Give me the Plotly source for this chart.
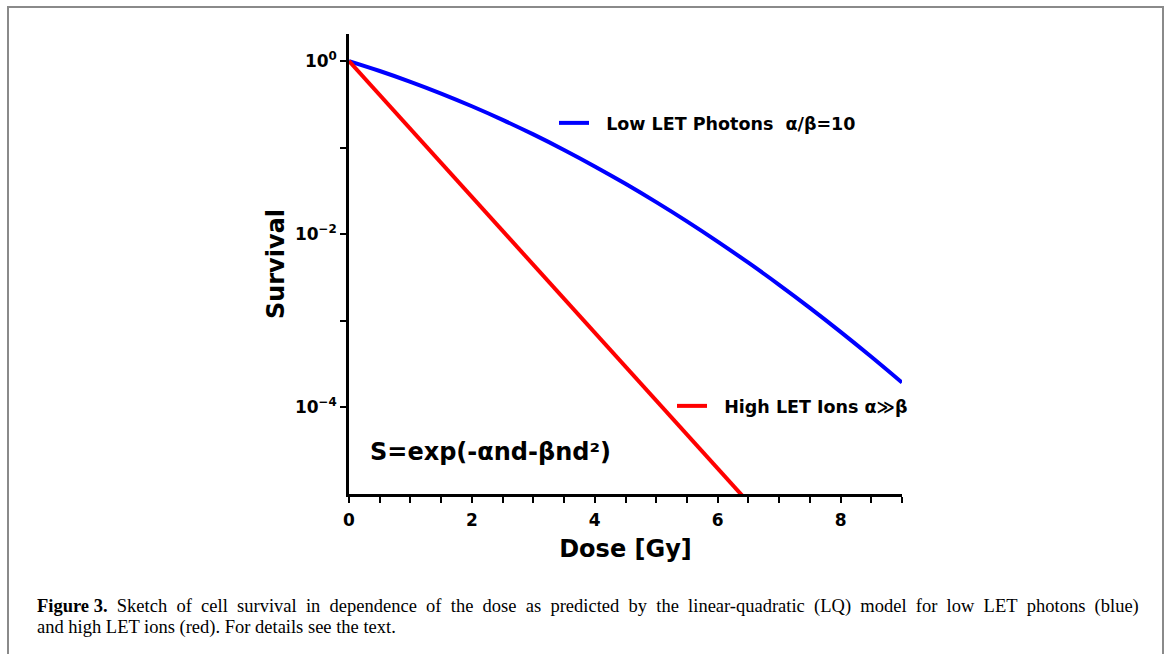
import plotly.graph_objects as go

# ---- data ----
dose_photons = [0, 0.5, 1, 1.5, 2, 2.5, 3, 3.5, 4, 4.5, 5, 5.5, 6, 6.5, 7, 7.5, 8, 8.5, 9]
surv_photons = [1.0, 0.769, 0.577, 0.422, 0.301, 0.2096, 0.1423, 0.0942, 0.0608, 0.0383,
                0.0235, 0.0141, 0.00823, 0.00469, 0.00261, 0.001414, 0.000747, 0.000385, 0.000194]
dose_ions = [0, 1, 2, 3, 4, 5, 6, 6.5]
surv_ions = [1.0, 0.1645, 0.02705, 0.00445, 0.000732, 0.0001204, 0.0000198, 0.0000080]

x_tick_vals = [0, 2, 4, 6, 8]
x_tick_text = ["0", "2", "4", "6", "8"]
y_tick_vals = [1, 1e-2, 1e-4]
y_tick_text = ["10<sup>0</sup>", "10<sup>\u22122</sup>", "10<sup>\u22124</sup>"]
y_minor_vals = [1e-1, 1e-3]

name_photons = "\u00a0\u00a0Low LET Photons\u00a0\u00a0\u03b1/\u03b2=10"
name_ions = "\u00a0\u00a0High LET Ions \u03b1\u226b\u03b2"
formula = "S=exp(-\u03b1nd-\u03b2nd\u00b2)"
caption_line1 = ("<b>Figure 3.</b> Sketch of cell survival in dependence of the dose as predicted by the "
                 "linear-quadratic (LQ) model for low LET photons (blue)")
caption_line2 = "and high LET ions (red). For details see the text."

# ---- layout geometry (pixels) ----
W, H = 1168, 654
L, R, T, B = 349, 902, 34, 494


def px(xp):
    return (xp - L) / (R - L)


def py(yp):
    return (B - yp) / (B - T)


SANS = "DejaVu Sans"
BOLD = dict(family=SANS, color="black", weight="bold")

fig = go.Figure()
fig.add_trace(go.Scatter(x=dose_photons, y=surv_photons, mode="lines", name=name_photons,
                         line=dict(color="#0000ff", width=4, shape="spline"),
                         legend="legend", showlegend=True))
fig.add_trace(go.Scatter(x=dose_ions, y=surv_ions, mode="lines", name=name_ions,
                         line=dict(color="#ff0000", width=4),
                         legend="legend2", showlegend=True))

fig.update_layout(
    width=W, height=H,
    margin=dict(l=L, r=W - R, t=T, b=H - B, pad=0),
    paper_bgcolor="white", plot_bgcolor="white",
    showlegend=True,
    legend=dict(x=px(554), y=py(123), xanchor="left", yanchor="middle",
                bgcolor="rgba(0,0,0,0)", font=dict(size=17.5, **BOLD)),
    legend2=dict(x=px(672), y=py(406), xanchor="left", yanchor="middle",
                 bgcolor="rgba(0,0,0,0)", font=dict(size=17.5, **BOLD)),
)

fig.update_xaxes(
    range=[0, 9], showgrid=False, zeroline=False,
    showline=True, linecolor="black", linewidth=2.5,
    ticks="outside", ticklen=6, tickwidth=2, tickcolor="black",
    tickvals=x_tick_vals, ticktext=x_tick_text, ticklabelstandoff=3,
    tickfont=dict(size=17, **BOLD),
    minor=dict(dtick=0.5, ticks="outside", ticklen=6, tickwidth=2, tickcolor="black", showgrid=False),
    title=dict(text="Dose [Gy]", font=dict(size=24, **BOLD), standoff=12),
)
fig.update_yaxes(
    type="log", range=[-5, 0.313], showgrid=False, zeroline=False,
    showline=True, linecolor="black", linewidth=2.5,
    ticks="outside", ticklen=6, tickwidth=2, tickcolor="black",
    tickvals=y_tick_vals, ticktext=y_tick_text,
    tickfont=dict(size=17, **BOLD),
    minor=dict(tickvals=y_minor_vals, ticks="outside", ticklen=6, tickwidth=2, tickcolor="black", showgrid=False),
    title=dict(text="Survival", font=dict(size=24, **BOLD), standoff=4),
)

fig.add_annotation(text=formula, xref="paper", yref="paper", x=px(368), y=py(452),
                   xanchor="left", yanchor="middle", showarrow=False,
                   font=dict(size=24, **BOLD))

SERIF = dict(family="Liberation Serif", size=18.5, color="black")
fig.add_annotation(text=caption_line1.replace(" ", "\u00a0\u00a0").replace("<b>Figure\u00a0\u00a03.</b>", "<b>Figure 3.</b>"),
                   xref="paper", yref="paper", x=px(35), y=py(606),
                   xanchor="left", yanchor="middle", align="left", showarrow=False, font=SERIF)
fig.add_annotation(text=caption_line2, xref="paper", yref="paper", x=px(35), y=py(628),
                   xanchor="left", yanchor="middle", align="left", showarrow=False, font=SERIF)

# figure frame
fig.add_shape(type="rect", xref="paper", yref="paper",
              x0=px(8), x1=px(1163), y0=py(700), y1=py(7),
              line=dict(color="#8a8a8a", width=2), fillcolor="rgba(0,0,0,0)", layer="below")

fig.write_html("out.html")
